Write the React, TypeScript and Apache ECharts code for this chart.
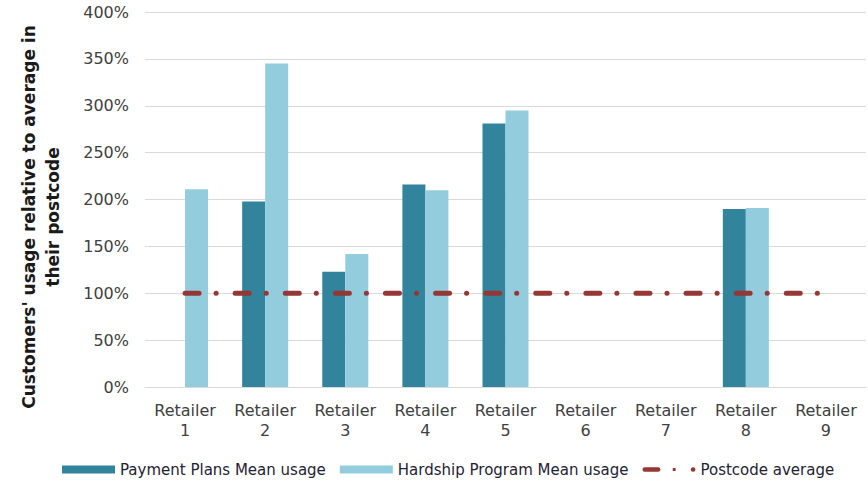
import React, { useEffect, useRef } from "react";
import * as echarts from "echarts";

const categories = [
  "Retailer\n1", "Retailer\n2", "Retailer\n3", "Retailer\n4", "Retailer\n5",
  "Retailer\n6", "Retailer\n7", "Retailer\n8", "Retailer\n9",
];
const paymentPlans = [null, 198, 123, 216, 281, null, null, 190, null];
const hardshipProgram = [211, 345, 142, 210, 295, null, null, 191, null];
const postcodeAverage = [100, 100, 100, 100, 100, 100, 100, 100, 100];
const seriesNames = ["Payment Plans Mean usage", "Hardship Program Mean usage", "Postcode average"];
const yTitle = "Customers' usage relative to average in\ntheir postcode";

const FONT = "DejaVu Sans";

export default function App() {
  const ref = useRef<HTMLDivElement>(null);
  useEffect(() => {
    if (!ref.current) return;
    const chart = echarts.init(ref.current, null, { renderer: "svg" });
    chart.setOption({
      animation: false,
      grid: { left: 145, right: 2, top: 12, bottom: 94, containLabel: false },
      legend: {
        left: 62,
        top: 462,
        padding: 0,
        itemWidth: 53,
        itemHeight: 8,
        itemGap: 14,
        textStyle: { fontFamily: FONT, fontSize: 15, color: "#1f2233" },
        data: [
          { name: seriesNames[0], icon: "rect" },
          { name: seriesNames[1], icon: "rect" },
          {
            name: seriesNames[2],
            icon: "path://M2.5,0 h14 a2.5,2.5 0 0 1 0,5 h-14 a2.5,2.5 0 0 1 0,-5 z M32,1 h3 v3 h-3 z M53.5,0 a2.5,2.5 0 0 1 0,5 a2.5,2.5 0 0 1 0,-5 z",
          },
        ],
      },
      xAxis: {
        type: "category",
        data: categories,
        axisLine: { lineStyle: { color: "#d9d9d9", width: 1 } },
        axisTick: { show: false },
        axisLabel: {
          fontFamily: FONT,
          fontSize: 16,
          color: "#404040",
          lineHeight: 20,
          margin: 13,
          interval: 0,
        },
      },
      yAxis: {
        type: "value",
        min: 0,
        max: 400,
        interval: 50,
        axisLine: { show: false },
        axisTick: { show: false },
        axisLabel: {
          fontFamily: FONT,
          fontSize: 16,
          color: "#404040",
          margin: 16,
          formatter: "{value}%",
        },
        splitLine: { lineStyle: { color: "#d9d9d9", width: 1 } },
      },
      graphic: [
        {
          type: "text",
          x: 41,
          y: 217,
          rotation: Math.PI / 2,
          style: {
            text: yTitle,
            fontFamily: FONT,
            fontWeight: "bold",
            fontSize: 17,
            lineHeight: 24,
            fill: "#1a1a1a",
            textAlign: "center",
            textVerticalAlign: "middle",
          },
        },
      ],
      series: [
        {
          name: seriesNames[0],
          type: "bar",
          data: paymentPlans,
          barWidth: 23,
          barGap: "0%",
          itemStyle: { color: "#31849B" },
        },
        {
          name: seriesNames[1],
          type: "bar",
          data: hardshipProgram,
          barWidth: 23,
          barGap: "0%",
          itemStyle: { color: "#93CDDD" },
        },
        {
          name: seriesNames[2],
          type: "line",
          data: postcodeAverage,
          symbol: "none",
          z: 5,
          itemStyle: { color: "#953735" },
          lineStyle: {
            color: "#953735",
            width: 5,
            type: [14, 17, 0.1, 19],
            cap: "round",
          },
        },
      ],
    });
    return () => chart.dispose();
  }, []);
  return (
    <div
      ref={ref}
      style={{ position: "absolute", left: 0, top: 0, width: 868, height: 481 }}
    />
  );
}
